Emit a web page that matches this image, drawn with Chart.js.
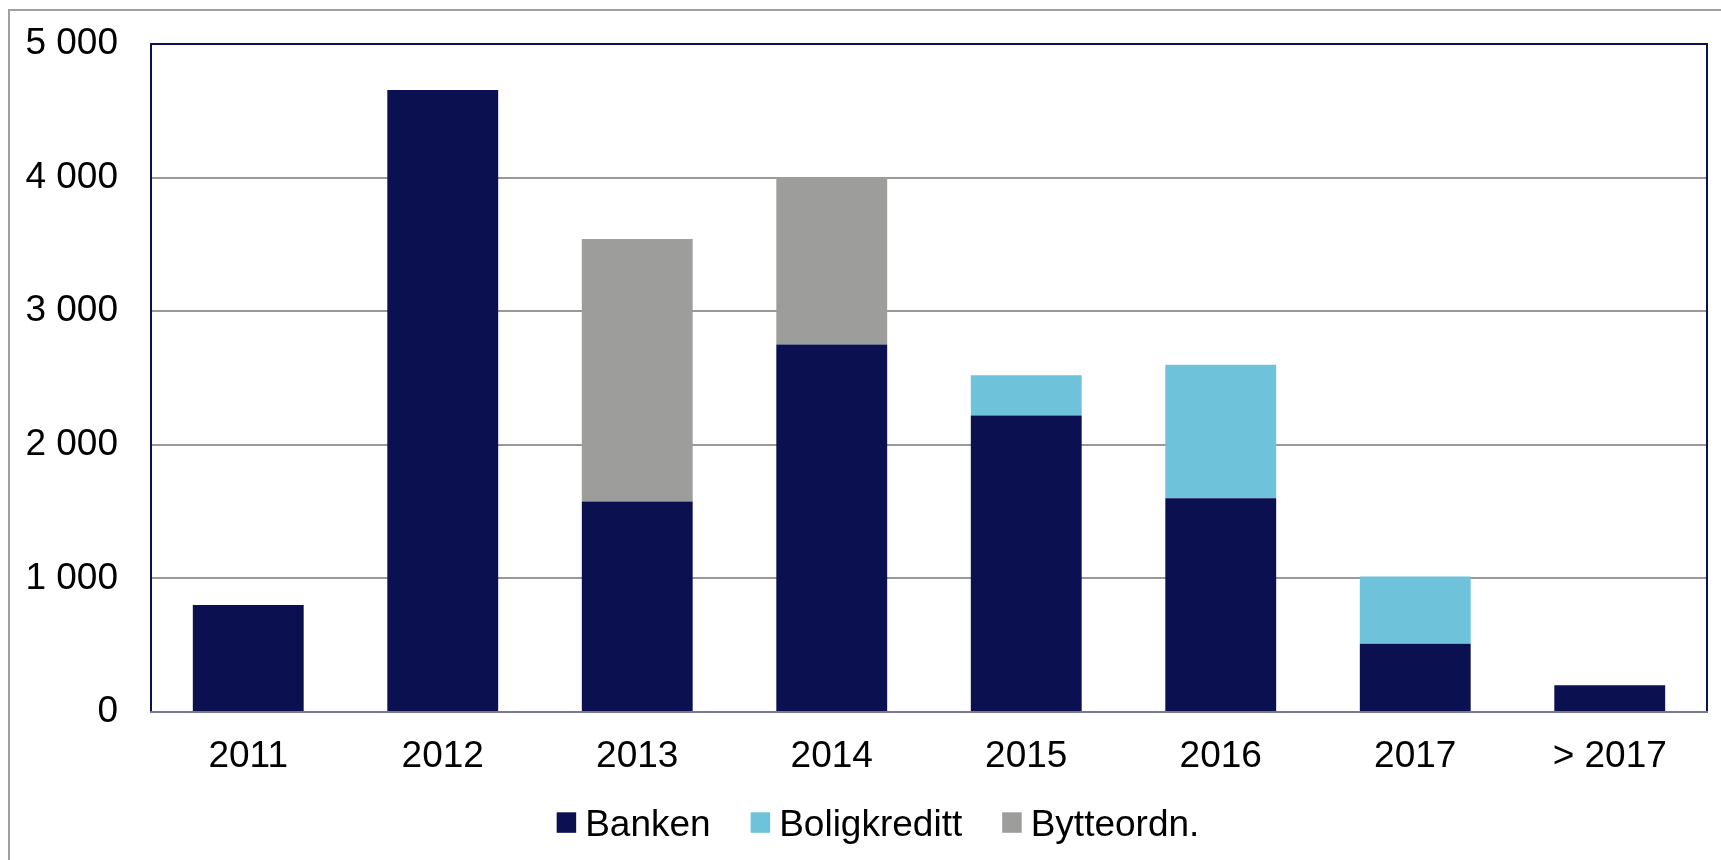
<!DOCTYPE html>
<html><head><meta charset="utf-8">
<script src="https://cdn.jsdelivr.net/npm/chart.js@4.4.1/dist/chart.umd.min.js"></script>
<style>
html,body{margin:0;padding:0;background:#fff;overflow:hidden}
#wrap{position:relative;width:1721px;height:860px}
#frame{position:absolute;left:8px;top:9px;width:1760px;height:920px;border:2px solid #a0a0a0;box-sizing:border-box}
canvas{position:absolute;left:0;top:0}
</style></head><body>
<div id="wrap"><div id="frame"></div><canvas id="c" width="1721" height="860"></canvas></div>
<script>
const categories = ['2011','2012','2013','2014','2015','2016','2017','> 2017'];
const banken = [800, 4655, 1575, 2750, 2220, 1600, 510, 200];
const boligkreditt = [0, 0, 0, 0, 300, 1000, 505, 0];
const bytteordn = [0, 0, 1965, 1250, 0, 0, 0, 0];
const seriesNames = ['Banken', 'Boligkreditt', 'Bytteordn.'];
const yTicks = [0, 1000, 2000, 3000, 4000, 5000];

const NAVY = '#0a1050', CYAN = '#6ec3da', GREY = '#9d9d9c';
const FONT = '"Liberation Sans", Arial, sans-serif';

const framePlugin = {
  id: 'plotFrame',
  afterDatasetsDraw(chart) {
    const {ctx, chartArea: a} = chart;
    ctx.save();
    ctx.lineWidth = 2;
    ctx.strokeStyle = NAVY;
    ctx.beginPath();
    ctx.moveTo(a.left, a.bottom);
    ctx.lineTo(a.left, a.top);
    ctx.lineTo(a.right, a.top);
    ctx.lineTo(a.right, a.bottom);
    ctx.stroke();
    ctx.strokeStyle = '#7a7a8a';
    ctx.beginPath();
    ctx.moveTo(a.left - 1, a.bottom);
    ctx.lineTo(a.right + 1, a.bottom);
    ctx.stroke();
    ctx.restore();
  }
};

const legendPlugin = {
  id: 'bottomLegend',
  afterDraw(chart) {
    const ctx = chart.ctx;
    ctx.save();
    ctx.font = '37px ' + FONT;
    const boxW = 19.5, boxH = 20.5, gapBT = 9, gapItem = 40;
    const ds = chart.data.datasets;
    const widths = ds.map(d => ctx.measureText(d.label).width);
    const total = ds.length * (boxW + gapBT) + widths.reduce((s, w) => s + w, 0) + (ds.length - 1) * gapItem;
    const centerX = 878;
    let x = centerX - total / 2;
    ctx.textBaseline = 'alphabetic';
    ctx.textAlign = 'left';
    ds.forEach((d, i) => {
      ctx.fillStyle = d.backgroundColor;
      ctx.fillRect(x, 812.3, boxW, boxH);
      x += boxW + gapBT;
      ctx.fillStyle = '#000';
      ctx.fillText(d.label, x, 836);
      x += widths[i] + gapItem;
    });
    ctx.restore();
  }
};

const fmt = v => String(v).replace(/\B(?=(\d{3})+(?!\d))/g, ' ');

new Chart(document.getElementById('c'), {
  type: 'bar',
  data: {
    labels: categories,
    datasets: [
      {label: seriesNames[0], data: banken, backgroundColor: NAVY},
      {label: seriesNames[1], data: boligkreditt, backgroundColor: CYAN},
      {label: seriesNames[2], data: bytteordn, backgroundColor: GREY}
    ]
  },
  options: {
    responsive: false,
    animation: false,
    devicePixelRatio: 1,
    categoryPercentage: 1,
    barPercentage: 0.57,
    layout: {padding: {left: 0, top: 44, right: 14, bottom: 78}},
    plugins: {legend: {display: false}, tooltip: {enabled: false}},
    scales: {
      x: {
        stacked: true,
        grid: {display: false, drawTicks: false},
        border: {display: false},
        ticks: {color: '#000', font: {family: FONT, size: 37}, padding: 23, maxRotation: 0},
        afterFit(s) { s.height = 70; }
      },
      y: {
        stacked: true,
        min: yTicks[0],
        max: yTicks[yTicks.length - 1],
        afterBuildTicks(s) { s.ticks = yTicks.map(v => ({value: v})); },
        grid: {color: '#999999', lineWidth: 2, drawTicks: false},
        border: {display: false},
        ticks: {color: '#000', font: {family: FONT, size: 37}, padding: 33, callback: v => fmt(v)},
        afterFit(s) { s.width = 151; s.paddingTop = 0; s.paddingBottom = 0; }
      }
    }
  },
  plugins: [framePlugin, legendPlugin]
});
</script>
</body></html>
